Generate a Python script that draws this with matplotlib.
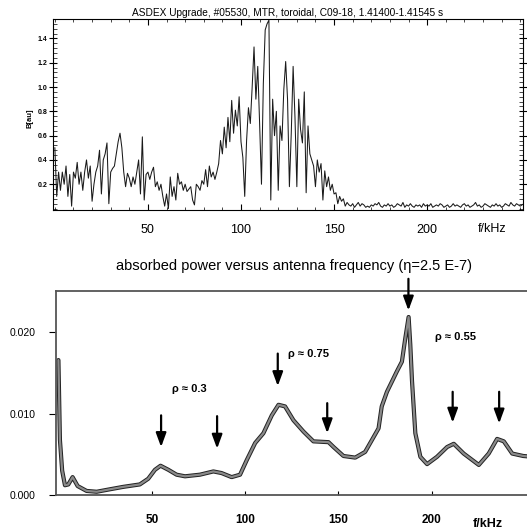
import numpy as np
import matplotlib
matplotlib.use("Agg")
import matplotlib.pyplot as plt
from matplotlib.ticker import MultipleLocator, FixedLocator

plt.rcParams['font.family'] = ['Liberation Sans', 'DejaVu Sans']

# ---------------- data ----------------
top_title = "ASDEX Upgrade, #05530, MTR, toroidal, C09-18, 1.41400-1.41545 s"
top_ylabel = "B[au]"
top_yticks = [0.2, 0.4, 0.6, 0.8, 1.0, 1.2, 1.4]
x_ticks = [50, 100, 150, 200]

# measured spectrum, 1 kHz steps starting at 0 kHz
spectrum = [
    0.50, 0.10, 0.30, 0.15, 0.30, 0.20, 0.35, 0.10, 0.28, 0.02,
    0.30, 0.25, 0.38, 0.20, 0.30, 0.15, 0.30, 0.40, 0.25, 0.35,
    0.06, 0.20, 0.30, 0.35, 0.48, 0.12, 0.40, 0.45, 0.54, 0.04,
    0.30, 0.33, 0.35, 0.45, 0.55, 0.62, 0.50, 0.30, 0.18, 0.29,
    0.25, 0.18, 0.26, 0.20, 0.30, 0.40, 0.12, 0.59, 0.07, 0.28,
    0.30, 0.24, 0.30, 0.34, 0.18, 0.22, 0.15, 0.20, 0.10, 0.02,
    0.12, 0.00, 0.26, 0.10, 0.18, 0.07, 0.29, 0.20, 0.22, 0.15,
    0.20, 0.14, 0.16, 0.18, 0.07, 0.03, 0.20, 0.18, 0.15, 0.23,
    0.20, 0.32, 0.18, 0.35, 0.26, 0.30, 0.24, 0.30, 0.37, 0.56,
    0.45, 0.67, 0.50, 0.75, 0.55, 0.89, 0.62, 0.81, 0.68, 0.92,
    0.55, 0.42, 0.10, 0.56, 0.83, 0.70, 1.00, 1.33, 0.90, 1.17,
    0.70, 0.20, 1.03, 1.47, 1.52, 1.55, 0.07, 0.90, 0.60, 0.80,
    0.15, 0.68, 0.56, 0.98, 1.21, 0.90, 0.18, 0.62, 1.17, 0.75,
    0.18, 0.90, 0.65, 0.54, 0.96, 0.13, 0.68, 0.45, 0.40, 0.35,
    0.18, 0.40, 0.30, 0.37, 0.07, 0.31, 0.18, 0.26, 0.15, 0.20,
    0.12, 0.13, 0.04, 0.10, 0.06, 0.08, 0.02, 0.05, 0.03,
    0.02, 0.04, 0.01, 0.03, 0.05, 0.02, 0.04, 0.03, 0.01, 0.02,
    0.01, 0.03, 0.02, 0.04, 0.03, 0.05, 0.02, 0.01, 0.03, 0.02,
    0.04, 0.02, 0.03, 0.01, 0.02, 0.04, 0.03, 0.02, 0.05, 0.01,
    0.03, 0.02, 0.04, 0.02, 0.01, 0.03, 0.02, 0.03, 0.01, 0.04,
    0.02, 0.03, 0.02, 0.04, 0.01, 0.02, 0.03, 0.02, 0.04, 0.03,
    0.01, 0.02, 0.03, 0.01, 0.02, 0.04, 0.02, 0.03, 0.02, 0.01,
    0.03, 0.04, 0.02, 0.03, 0.01, 0.02, 0.03, 0.05, 0.02, 0.03,
    0.01, 0.02, 0.04, 0.03, 0.02, 0.01, 0.03, 0.02, 0.04, 0.02,
    0.03, 0.01, 0.02, 0.04, 0.03, 0.02, 0.05, 0.03, 0.02, 0.04,
    0.03, 0.02, 0.03, 0.04,
]
spectrum_step_khz = 1.0

bottom_title = "absorbed power versus antenna frequency (\u03b7=2.5 E-7)"
power_freq = [0.0, 0.8, 2.0, 3.5, 5.3, 7.6, 10.3, 15.1, 20.5, 27.5, 34.7, 43.6,
              48.1, 51.7, 54.7, 58.9, 63.3, 67.8, 75.8, 83.0, 87.4, 92.8, 97.3,
              100.9, 105.4, 109.8, 114.3, 117.9, 121.4, 125.9, 131.3, 136.6,
              144.7, 147.4, 152.7, 159.0, 164.3, 171.5, 173.2, 176.0, 181.3,
              184.0, 185.7, 187.6, 188.5, 189.4, 191.2, 193.9, 197.5, 202.8,
              208.2, 211.8, 217.1, 225.2, 230.5, 235.0, 238.6, 243.1, 249.0, 254.0]
power_abs = [0.0166, 0.0068, 0.0030, 0.0012, 0.0013, 0.0022, 0.0011, 0.0005,
             0.0004, 0.0007, 0.0010, 0.0013, 0.0020, 0.0031, 0.0036, 0.0031,
             0.0025, 0.0023, 0.0025, 0.0029, 0.0027, 0.0022, 0.0025, 0.0043,
             0.0064, 0.0076, 0.0098, 0.0111, 0.0109, 0.0092, 0.0078, 0.0066,
             0.0065, 0.0059, 0.0048, 0.0046, 0.0053, 0.0082, 0.0109, 0.0127,
             0.0152, 0.0164, 0.0191, 0.0219, 0.0185, 0.0141, 0.0076, 0.0047,
             0.0038, 0.0047, 0.0059, 0.0063, 0.0051, 0.0037, 0.0051, 0.0069,
             0.0066, 0.0051, 0.0048, 0.0047]
bottom_yticks = [0.000, 0.010, 0.020]
bottom_ytick_labels = ["0.000", "0.010", "0.020"]

arrow_freq = [55.0, 85.0, 117.5, 144.0, 187.5, 211.2, 236.1]
arrow_tail = [0.0098, 0.0097, 0.0174, 0.0113, 0.0266, 0.0127, 0.0127]
arrow_head = [0.0059, 0.0057, 0.0134, 0.0076, 0.0227, 0.0089, 0.0088]

rho_labels = ["\u03c1 \u2248 0.3", "\u03c1 \u2248 0.75", "\u03c1 \u2248 0.55"]
rho_freq = [61.0, 123.0, 201.5]
rho_val = [0.0130, 0.0173, 0.0194]

# ---------------- figure ----------------
fig = plt.figure(figsize=(5.27, 5.30), dpi=100)

# top panel
ax1 = fig.add_axes([53/527, 1-210/530, 470/527, 191/530])
f_top = np.arange(len(spectrum)) * spectrum_step_khz
ax1.plot(f_top, spectrum, color='#1a1a1a', lw=0.75)
ax1.set_xlim(-1.0, 251.5)
ax1.set_ylim(-0.012, 1.56)
ax1.yaxis.set_major_locator(FixedLocator(top_yticks))
ax1.yaxis.set_minor_locator(MultipleLocator(0.04))
ax1.set_yticklabels([f"{v:.1f}" for v in top_yticks], fontsize=5, fontweight='bold')
ax1.xaxis.set_major_locator(FixedLocator(x_ticks))
ax1.xaxis.set_minor_locator(MultipleLocator(10))
ax1.set_xticklabels([str(v) for v in x_ticks], fontsize=9)
ax1.tick_params(axis='y', which='major', direction='inout', length=6, width=0.8,
                right=True, pad=1)
ax1.tick_params(axis='y', which='minor', direction='in', length=3, width=0.5, right=True)
ax1.tick_params(axis='x', which='major', direction='in', length=4, width=0.8,
                top=True, pad=10)
ax1.tick_params(axis='x', which='minor', direction='in', length=2, width=0.5, top=True)
for s in ax1.spines.values():
    s.set_linewidth(0.8)
ax1.set_title(top_title, fontsize=7.3, pad=2)
fig.text(30/527, 1-118/530, top_ylabel, rotation=90, fontsize=5.5,
         fontweight='bold', ha='center', va='center')
fig.text(492/527, 1-229/530, "f/kHz", fontsize=9, ha='center', va='center')

# bottom panel
ax2 = fig.add_axes([56/527, 1-495/530, 476/527, 204/530])
ax2.plot(power_freq, power_abs, color='#222222', lw=3.0, solid_joinstyle='round',
         solid_capstyle='round')
ax2.plot(power_freq, power_abs, color='#8a8a8a', lw=1.6, solid_joinstyle='round',
         solid_capstyle='round')
ax2.set_xlim(-1.3, 253.7)
ax2.set_ylim(0.0, 0.0251)
ax2.spines['right'].set_visible(False)
for s in ['left', 'bottom', 'top']:
    ax2.spines[s].set_linewidth(1.3)
    ax2.spines[s].set_color('#555555')
ax2.xaxis.set_major_locator(FixedLocator(x_ticks))
ax2.set_xticklabels([str(v) for v in x_ticks], fontsize=8.5, fontweight='bold')
ax2.yaxis.set_major_locator(FixedLocator(bottom_yticks))
ax2.set_yticklabels(bottom_ytick_labels, fontsize=7.5)
ax2.tick_params(axis='x', direction='in', length=3, width=0.8, pad=14)
ax2.tick_params(axis='y', direction='out', length=5, width=0.8, pad=10)
ax2.set_title(bottom_title, fontsize=10.5, pad=15)
fig.text(488/527, 1-524/530, "f/kHz", fontsize=9, fontweight='bold',
         ha='center', va='center')

for f, t, h in zip(arrow_freq, arrow_tail, arrow_head):
    ax2.annotate("", xy=(f, h), xytext=(f, t),
                 arrowprops=dict(arrowstyle='-|>,head_length=0.6,head_width=0.22',
                                 color='black', lw=1.6,
                                 mutation_scale=14, shrinkA=0, shrinkB=0),
                 annotation_clip=False)

for lab, f, v in zip(rho_labels, rho_freq, rho_val):
    ax2.text(f, v, lab, fontsize=8, fontweight='bold', ha='left', va='center')

fig.savefig("out.png", dpi=100)
